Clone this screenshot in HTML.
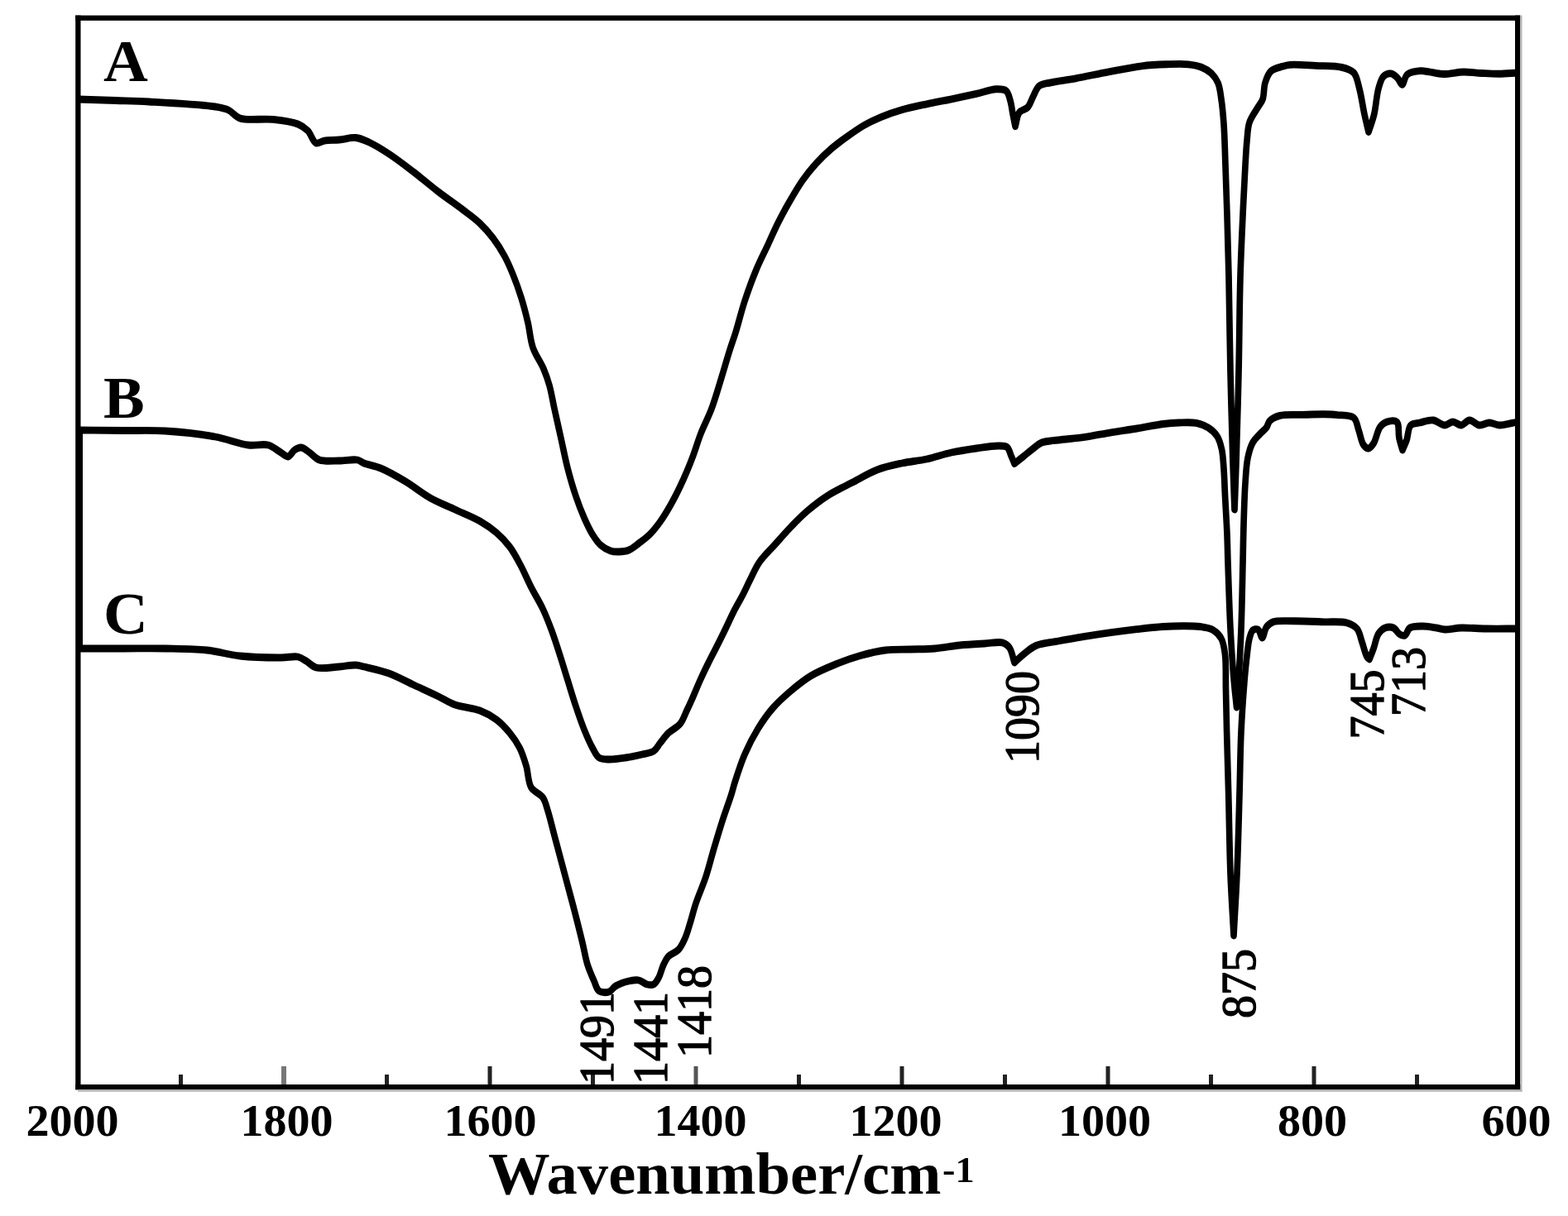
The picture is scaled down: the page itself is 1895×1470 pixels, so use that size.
<!DOCTYPE html>
<html lang="en"><head><meta charset="utf-8"><title>FTIR spectra</title>
<style>
html,body{margin:0;padding:0;background:#fff;}
body{width:1895px;height:1470px;overflow:hidden;}
svg{display:block;}
text{font-family:"Liberation Serif","DejaVu Serif",serif;fill:#000;}
.b{font-weight:bold;}
.tk{font-weight:bold;font-size:55px;text-anchor:middle;}
.pk{font-size:56px;stroke:#000;stroke-width:1.3px;}
.lab{font-weight:bold;font-size:72px;}
.cv{fill:none;stroke:#000;stroke-width:7.7;stroke-linejoin:round;stroke-linecap:butt;}
</style></head>
<body>
<svg width="1895" height="1470" viewBox="0 0 1895 1470">
<rect x="0" y="0" width="1895" height="1470" fill="#fff"/>
<g transform="scale(1 1.15)">
<path class="cv" d="M94.00 104.35C109.33 104.78 125.20 105.20 140.00 105.65C153.80 106.07 164.39 106.19 180.00 106.96C202.10 108.04 243.59 109.87 260.00 112.17C267.44 113.22 271.04 113.66 276.00 115.65C281.06 117.68 283.72 122.49 290.00 124.35C299.58 127.18 317.67 124.38 330.00 125.57C340.77 126.60 352.48 127.77 360.00 130.43C365.17 132.26 368.48 134.33 372.00 137.39C375.93 140.81 378.07 149.20 382.00 150.43C384.99 151.37 388.13 148.42 392.00 147.83C397.08 147.05 403.85 147.44 410.00 146.96C416.50 146.45 423.77 144.22 430.00 144.78C435.70 145.30 440.27 147.28 446.00 149.57C453.35 152.49 461.70 157.01 470.00 161.74C479.60 167.21 490.08 174.26 500.00 180.87C510.08 187.59 519.92 195.02 530.00 201.74C539.92 208.35 551.07 214.92 560.00 220.87C567.41 225.80 573.93 229.77 580.00 234.78C585.89 239.65 591.08 244.77 596.00 250.43C601.12 256.33 605.95 263.06 610.00 269.57C613.90 275.83 616.82 281.87 620.00 288.70C623.52 296.26 627.02 304.73 630.00 313.04C633.04 321.54 635.66 330.40 638.00 339.13C640.32 347.79 640.76 357.01 644.00 365.22C647.16 373.22 653.53 380.69 657.00 387.83C659.96 393.92 661.95 398.87 664.00 405.22C666.38 412.59 667.84 420.94 670.00 429.57C672.46 439.35 675.33 450.43 678.00 460.87C680.67 471.30 682.96 481.93 686.00 492.17C688.98 502.21 692.44 512.60 696.00 521.74C699.16 529.84 702.46 537.37 706.00 544.35C709.17 550.60 712.37 556.69 716.00 561.74C719.11 566.06 722.14 570.09 726.00 573.04C729.55 575.76 734.04 578.01 738.00 579.13C741.36 580.08 744.52 580.10 748.00 580.00C751.83 579.89 756.11 579.62 760.00 578.26C764.37 576.73 768.54 573.41 772.70 570.70C776.98 567.91 781.28 565.23 785.30 561.74C789.76 557.87 793.95 553.19 798.00 548.26C802.45 542.85 806.72 536.55 810.70 530.43C814.73 524.24 818.59 517.49 822.00 511.30C825.13 505.63 827.82 500.32 830.50 494.78C833.15 489.30 835.46 484.22 838.00 478.26C840.95 471.34 843.53 463.40 847.00 455.65C850.78 447.21 856.04 438.75 860.00 429.57C864.26 419.69 867.83 408.56 871.50 398.26C875.06 388.28 878.52 377.46 881.70 368.70C884.27 361.61 886.40 356.83 889.00 349.57C892.39 340.07 895.86 327.47 900.00 316.52C904.19 305.44 909.07 293.76 914.00 283.48C918.45 274.18 923.52 265.78 928.00 257.39C932.16 249.59 935.70 242.26 940.00 234.78C944.36 227.19 949.05 219.65 954.00 212.17C959.04 204.57 964.41 196.47 970.00 189.57C975.12 183.24 980.31 177.64 986.00 172.17C991.65 166.75 997.67 161.65 1004.00 156.87C1010.34 152.08 1017.25 147.70 1024.00 143.48C1030.59 139.36 1037.20 135.24 1044.00 131.83C1050.54 128.55 1056.80 125.91 1064.00 123.30C1072.01 120.41 1080.95 117.75 1090.00 115.48C1099.57 113.07 1109.98 111.28 1120.00 109.39C1129.98 107.51 1140.01 105.98 1150.00 104.17C1160.01 102.36 1170.56 100.35 1180.00 98.52C1188.45 96.88 1197.36 93.91 1204.00 93.74C1208.67 93.62 1213.17 93.53 1216.00 95.48C1218.92 97.49 1219.70 102.12 1221.00 105.91C1222.46 110.16 1222.98 115.27 1224.00 119.83C1224.98 124.25 1226.00 128.52 1227.00 132.87C1228.67 127.94 1228.98 121.48 1232.00 118.09C1234.45 115.34 1239.28 115.43 1242.00 112.87C1245.15 109.91 1246.59 104.57 1249.00 100.70C1251.27 97.05 1252.57 92.58 1256.00 90.26C1259.51 87.89 1264.41 87.88 1270.00 86.78C1278.08 85.20 1289.30 84.14 1300.00 82.43C1312.39 80.46 1326.65 77.65 1340.00 75.48C1353.32 73.31 1367.59 70.69 1380.00 69.39C1390.68 68.27 1400.35 67.93 1410.00 67.65C1418.97 67.39 1428.42 66.96 1436.00 67.65C1442.01 68.20 1447.20 68.94 1452.00 70.61C1456.46 72.16 1460.67 74.29 1464.00 77.04C1467.33 79.80 1470.04 83.12 1472.00 87.13C1474.35 91.94 1474.90 97.99 1476.00 104.35C1477.35 112.12 1478.21 120.62 1479.00 130.43C1480.02 143.08 1480.36 158.76 1481.00 173.91C1481.70 190.51 1482.36 207.78 1483.00 226.09C1483.71 246.41 1484.39 266.58 1485.00 290.43C1485.76 320.29 1486.15 358.13 1487.00 391.30C1487.83 423.61 1489.04 460.40 1490.00 486.96C1490.69 505.90 1491.33 519.42 1492.00 535.65C1492.67 519.42 1493.31 505.90 1494.00 486.96C1494.96 460.40 1496.17 423.61 1497.00 391.30C1497.85 358.13 1498.01 320.29 1499.00 290.43C1499.79 266.58 1500.94 246.41 1502.00 226.09C1502.95 207.78 1504.03 188.32 1505.00 173.91C1505.68 163.72 1506.07 155.84 1507.00 147.83C1507.80 140.94 1507.75 134.58 1510.00 128.70C1512.17 123.03 1517.05 117.48 1520.00 113.04C1522.22 109.70 1524.54 107.90 1526.00 104.35C1527.93 99.68 1527.12 92.12 1529.00 86.96C1530.65 82.41 1532.45 77.64 1536.00 74.78C1539.49 71.97 1545.80 70.97 1550.00 69.83C1553.28 68.93 1555.07 68.41 1559.00 68.09C1566.21 67.50 1579.62 68.53 1590.00 68.96C1600.49 69.39 1613.26 68.89 1621.60 70.70C1627.49 71.97 1632.51 73.06 1636.00 76.35C1639.94 80.06 1640.81 86.60 1642.80 92.87C1645.31 100.78 1646.96 112.05 1649.00 120.26C1650.68 127.03 1652.33 132.55 1654.00 138.70C1656.23 132.55 1658.81 127.08 1660.70 120.26C1662.96 112.09 1663.59 100.16 1666.00 92.87C1667.69 87.76 1669.01 82.81 1672.00 80.26C1674.31 78.29 1677.90 77.06 1680.70 77.30C1683.58 77.56 1686.69 80.04 1689.00 82.00C1691.28 83.94 1692.70 89.06 1694.50 88.96C1696.65 88.84 1697.39 80.67 1700.80 78.26C1704.51 75.64 1711.85 74.85 1716.60 74.52C1720.40 74.26 1723.12 75.03 1727.00 75.48C1731.98 76.05 1737.78 77.67 1744.00 77.83C1751.52 78.02 1760.98 75.76 1769.00 75.65C1776.43 75.56 1783.36 76.62 1790.50 76.96C1797.56 77.29 1804.46 77.71 1811.60 77.65C1818.96 77.59 1826.53 76.90 1834.00 76.52"/>
<path class="cv" d="M94.00 452.17C112.67 452.32 131.86 452.46 150.00 452.61C167.14 452.75 182.60 452.09 200.00 453.04C219.12 454.09 242.11 456.29 260.00 459.13C274.78 461.48 288.28 466.57 300.00 467.83C308.94 468.78 317.27 466.27 324.00 467.83C329.52 469.10 333.74 472.61 338.00 474.78C341.63 476.63 344.98 480.32 348.00 480.00C350.97 479.68 353.12 474.66 356.00 473.04C358.50 471.64 361.25 470.22 364.00 470.43C367.22 470.69 370.58 473.65 374.00 475.65C377.88 477.92 380.98 481.92 386.00 483.48C392.36 485.45 402.17 484.36 410.00 484.35C417.49 484.34 426.59 482.48 432.00 483.48C435.45 484.11 436.66 485.81 440.00 486.96C445.10 488.72 452.82 489.60 460.00 492.17C469.16 495.46 480.14 500.96 490.00 506.09C500.15 511.37 509.78 518.48 520.00 523.48C529.80 528.27 540.00 531.59 550.00 535.65C560.00 539.71 571.20 543.41 580.00 547.83C587.55 551.62 593.95 555.45 600.00 560.00C605.92 564.45 611.25 569.28 616.00 574.78C620.97 580.53 624.83 587.13 629.00 593.91C633.52 601.26 637.48 609.68 642.00 617.39C646.48 625.04 651.82 632.29 656.00 640.00C660.15 647.66 663.56 655.40 667.00 663.48C670.58 671.90 673.80 680.93 677.00 689.57C680.13 698.03 682.92 706.17 686.00 714.78C689.24 723.83 692.56 733.67 696.00 742.61C699.24 751.02 702.48 759.39 706.00 766.96C709.18 773.78 712.60 780.77 716.00 786.09C718.63 790.20 720.45 794.53 724.00 796.52C727.26 798.35 731.48 798.13 736.00 798.26C741.81 798.43 749.36 797.39 756.00 796.52C762.69 795.65 769.95 794.32 776.00 793.04C781.11 791.97 786.27 791.72 790.00 789.57C793.49 787.54 795.17 783.89 798.00 780.87C801.13 777.54 804.16 773.68 808.00 770.43C812.09 766.98 818.34 764.78 822.00 760.87C825.67 756.95 827.56 751.37 830.00 746.96C832.18 743.01 833.77 740.01 836.00 735.65C839.01 729.77 842.86 721.40 846.30 714.78C849.46 708.69 852.53 703.17 855.80 697.39C859.09 691.57 862.56 685.94 866.00 680.00C869.59 673.78 873.42 667.11 876.90 660.87C880.20 654.95 883.04 649.24 886.40 643.48C889.80 637.64 893.75 631.91 897.20 626.09C900.61 620.32 903.63 614.47 907.00 608.70C910.39 602.88 912.96 597.04 917.50 591.30C922.73 584.70 930.74 578.13 937.30 571.74C943.67 565.53 949.86 559.29 956.30 553.48C962.53 547.86 968.35 542.59 975.30 537.39C982.81 531.78 991.13 526.07 1000.00 521.13C1009.30 515.96 1019.98 511.76 1030.00 507.22C1039.98 502.69 1049.79 497.32 1060.00 493.91C1069.80 490.64 1079.95 488.85 1090.00 486.96C1099.95 485.09 1110.05 484.48 1120.00 482.61C1130.05 480.72 1139.95 477.54 1150.00 475.65C1159.95 473.78 1170.34 472.49 1180.00 471.30C1188.96 470.21 1199.17 468.63 1206.00 468.70C1210.45 468.74 1214.34 468.31 1217.00 470.00C1219.72 471.73 1220.46 476.15 1222.00 479.13C1223.45 481.94 1224.67 484.64 1226.00 487.39C1229.33 485.07 1232.52 482.88 1236.00 480.43C1239.83 477.75 1244.03 474.52 1248.00 471.91C1251.69 469.48 1254.54 466.77 1259.00 465.22C1264.47 463.32 1271.54 463.46 1279.00 462.61C1288.41 461.54 1300.39 460.81 1311.00 459.48C1321.59 458.15 1332.07 456.12 1342.60 454.61C1353.07 453.11 1363.49 451.92 1374.00 450.43C1384.62 448.93 1396.69 446.67 1406.00 445.65C1413.13 444.88 1418.53 444.51 1425.00 444.35C1431.72 444.17 1439.44 443.65 1445.60 444.70C1450.93 445.60 1455.75 447.16 1460.00 449.48C1464.21 451.78 1468.27 454.86 1471.00 458.52C1473.86 462.36 1475.18 467.08 1476.50 472.17C1478.08 478.29 1478.35 485.47 1479.00 492.87C1479.75 501.39 1479.92 510.32 1480.50 520.43C1481.21 532.82 1482.40 549.12 1483.00 561.74C1483.50 572.41 1483.54 579.37 1484.00 591.30C1484.70 609.61 1485.71 639.35 1487.00 660.87C1488.12 679.52 1489.56 697.99 1491.00 713.04C1492.10 724.56 1493.33 733.33 1494.50 743.48C1495.33 733.33 1496.20 724.55 1497.00 713.04C1498.05 697.99 1499.20 679.51 1500.00 660.87C1500.93 639.35 1501.46 611.18 1502.00 591.30C1502.40 576.40 1502.52 565.62 1503.00 552.17C1503.51 537.85 1503.98 520.71 1505.00 507.83C1505.79 497.84 1506.16 488.97 1508.00 481.30C1509.47 475.20 1511.22 469.58 1514.00 465.22C1516.28 461.65 1519.55 459.24 1522.40 456.52C1525.09 453.95 1528.50 451.85 1530.60 449.30C1532.46 447.06 1532.45 444.21 1534.70 442.26C1537.47 439.86 1541.95 438.00 1547.00 436.87C1554.01 435.30 1564.67 436.23 1573.50 436.00C1582.33 435.77 1592.28 435.39 1600.00 435.48C1606.00 435.55 1610.39 435.64 1616.00 436.17C1622.31 436.78 1631.67 436.09 1636.00 439.13C1639.86 441.84 1640.07 447.60 1642.00 452.17C1644.09 457.13 1645.23 464.67 1648.00 467.83C1649.71 469.77 1652.07 471.47 1654.00 471.30C1656.09 471.12 1658.13 468.56 1660.00 466.09C1662.99 462.15 1664.59 452.56 1668.00 448.70C1670.32 446.06 1672.86 444.39 1676.00 443.48C1679.44 442.48 1685.41 441.54 1688.00 443.48C1691.37 446.00 1689.69 455.62 1691.00 460.87C1692.11 465.32 1693.67 468.99 1695.00 473.04C1696.67 469.57 1698.46 466.48 1700.00 462.61C1701.85 457.96 1701.63 449.87 1705.00 446.96C1707.63 444.68 1711.97 445.15 1716.00 444.35C1720.82 443.39 1726.93 441.25 1732.00 441.74C1736.91 442.21 1741.72 446.91 1746.00 446.96C1749.60 446.99 1752.67 443.48 1756.00 443.48C1759.33 443.48 1762.73 447.18 1766.00 446.96C1769.40 446.72 1772.48 441.86 1776.00 441.74C1779.78 441.61 1783.92 446.57 1788.00 446.96C1791.92 447.33 1796.00 444.35 1800.00 444.35C1804.00 444.35 1807.38 446.83 1812.00 446.96C1818.21 447.13 1826.67 444.64 1834.00 443.48"/>
<path class="cv" d="M94.00 681.74C112.67 681.74 131.86 681.74 150.00 681.74C167.14 681.74 183.34 681.45 200.00 681.74C216.67 682.03 234.31 682.02 250.00 683.48C264.13 684.79 275.87 688.25 290.00 689.57C305.69 691.02 327.09 691.36 340.00 691.30C348.17 691.27 354.60 689.45 360.00 690.43C364.04 691.17 366.58 693.06 370.00 694.78C373.89 696.74 376.87 700.48 382.00 701.74C389.15 703.50 401.46 701.37 410.00 700.87C417.23 700.44 424.49 698.90 430.00 699.13C433.92 699.30 435.79 700.02 440.00 700.87C447.34 702.36 460.16 704.71 470.00 707.83C480.17 711.04 490.00 715.94 500.00 720.00C510.00 724.06 521.04 728.41 530.00 732.17C537.37 735.27 542.48 738.51 550.00 740.87C558.83 743.64 571.21 744.03 580.00 746.96C587.56 749.48 593.99 752.60 600.00 756.52C605.98 760.43 611.29 765.44 616.00 770.43C620.60 775.31 624.70 780.42 628.00 786.09C631.43 791.98 633.72 798.51 636.00 805.22C638.44 812.38 638.03 822.12 642.00 827.83C645.30 832.57 652.65 834.10 656.00 838.26C659.22 842.27 660.01 846.76 662.00 852.17C664.68 859.47 667.33 869.57 670.00 878.26C672.67 886.96 675.33 895.65 678.00 904.35C680.67 913.04 683.33 921.74 686.00 930.43C688.67 939.13 691.23 947.19 694.00 956.52C697.19 967.27 701.14 980.94 704.00 991.30C706.30 999.64 707.49 1006.95 710.00 1013.91C712.26 1020.17 715.41 1026.28 718.00 1031.30C720.05 1035.27 720.86 1039.89 724.00 1041.74C726.98 1043.49 732.60 1043.58 736.00 1042.61C739.20 1041.69 740.65 1038.26 744.00 1036.52C748.24 1034.32 754.98 1032.29 760.00 1031.30C764.22 1030.48 768.28 1029.81 772.00 1030.43C775.59 1031.04 778.76 1034.12 782.00 1034.78C784.74 1035.34 787.75 1035.76 790.00 1034.78C792.52 1033.69 794.20 1030.68 796.00 1027.83C798.35 1024.10 799.77 1017.93 802.00 1013.91C803.84 1010.59 805.24 1007.73 808.00 1005.22C811.06 1002.42 816.72 1001.32 820.00 998.26C823.47 995.03 825.73 990.51 828.00 986.09C830.46 981.29 831.98 976.04 834.00 970.43C836.31 964.00 838.17 956.97 841.00 949.57C844.31 940.91 849.45 931.08 853.00 921.74C856.50 912.52 859.01 903.32 862.20 893.91C865.50 884.20 868.88 874.18 872.50 864.35C876.14 854.47 881.23 842.51 884.00 834.78C885.76 829.86 886.20 827.52 888.00 822.61C890.84 814.87 895.28 802.54 900.00 793.04C904.64 783.71 910.12 774.42 916.00 766.09C921.52 758.26 927.31 751.03 934.00 744.35C940.65 737.71 948.30 731.76 956.00 726.09C963.64 720.46 971.26 714.99 980.00 710.43C989.18 705.65 999.90 701.84 1010.00 698.26C1019.90 694.76 1029.91 691.61 1040.00 689.13C1049.91 686.70 1059.94 684.56 1070.00 683.48C1079.94 682.41 1090.00 682.90 1100.00 682.61C1110.00 682.32 1120.02 682.46 1130.00 681.74C1140.02 681.01 1149.98 679.13 1160.00 678.26C1169.98 677.39 1180.77 676.97 1190.00 676.52C1197.90 676.14 1206.68 674.23 1212.00 675.65C1215.58 676.61 1217.84 678.27 1220.00 680.87C1222.97 684.45 1224.00 691.30 1226.00 696.52C1229.67 693.62 1232.94 690.65 1237.00 687.83C1241.51 684.69 1245.95 680.96 1252.00 678.70C1259.42 675.92 1269.61 675.46 1279.00 673.91C1289.20 672.23 1300.36 670.56 1311.00 669.04C1321.56 667.54 1332.07 666.13 1342.60 664.87C1353.07 663.61 1363.48 662.50 1374.00 661.48C1384.61 660.44 1396.09 659.27 1406.00 658.70C1414.56 658.20 1422.36 657.98 1430.00 658.00C1436.97 658.02 1443.75 657.90 1450.00 658.70C1455.68 659.42 1461.58 660.02 1466.00 662.26C1470.13 664.36 1473.61 667.49 1476.00 671.30C1478.78 675.74 1479.51 681.17 1480.50 687.83C1481.95 697.65 1481.17 711.90 1481.50 724.78C1481.87 738.89 1482.14 752.90 1482.60 769.13C1483.16 788.88 1484.01 811.59 1484.70 834.78C1485.48 860.94 1485.84 892.16 1487.00 918.26C1488.03 941.35 1489.67 961.74 1491.00 983.48C1492.33 961.74 1493.88 941.35 1495.00 918.26C1496.27 892.16 1497.13 860.94 1498.00 834.78C1498.77 811.59 1498.91 789.88 1500.00 769.13C1500.99 750.38 1502.62 730.36 1504.00 715.65C1504.97 705.30 1505.88 697.16 1507.00 689.22C1507.92 682.66 1508.50 676.15 1510.00 671.30C1511.08 667.82 1511.87 664.09 1514.00 662.61C1515.65 661.46 1518.63 660.95 1520.40 661.74C1522.73 662.77 1523.88 670.50 1525.50 670.43C1527.30 670.36 1528.10 662.00 1530.60 659.13C1532.74 656.67 1535.07 654.90 1538.80 653.74C1544.52 651.95 1554.08 652.92 1563.00 652.87C1574.03 652.80 1588.53 653.39 1600.00 653.74C1609.98 654.04 1620.81 652.95 1628.00 654.78C1633.06 656.07 1637.04 657.82 1640.00 660.87C1643.28 664.25 1644.05 669.99 1646.00 674.78C1648.06 679.83 1649.92 687.51 1652.00 690.43C1652.98 691.82 1654.00 692.17 1655.00 693.04C1656.67 689.28 1658.31 685.83 1660.00 681.74C1661.97 676.96 1663.11 669.87 1666.00 666.09C1668.17 663.25 1670.94 661.00 1674.00 660.00C1676.97 659.03 1681.07 658.94 1684.00 660.00C1687.12 661.12 1689.30 665.75 1692.00 666.96C1693.98 667.84 1696.21 668.50 1698.00 667.83C1700.38 666.93 1700.93 661.65 1704.00 660.00C1707.74 657.99 1714.67 658.26 1720.00 658.26C1725.33 658.26 1731.30 659.34 1736.00 660.00C1739.74 660.53 1742.08 661.57 1746.00 661.74C1751.51 661.97 1758.65 660.21 1766.00 660.00C1774.98 659.74 1785.41 660.72 1796.00 660.87C1807.92 661.04 1821.33 660.87 1834.00 660.87"/>
</g>
<rect x="216.0" y="1299" width="5.0" height="13" fill="#222"/>
<rect x="340.0" y="1289" width="6.0" height="23" fill="#777"/>
<rect x="465.0" y="1299" width="5.0" height="13" fill="#222"/>
<rect x="589.5" y="1289" width="5.0" height="23" fill="#222"/>
<rect x="714.0" y="1299" width="5.0" height="13" fill="#222"/>
<rect x="838.5" y="1289" width="5.0" height="23" fill="#555"/>
<rect x="963.0" y="1299" width="5.0" height="13" fill="#222"/>
<rect x="1087.5" y="1289" width="5.0" height="23" fill="#222"/>
<rect x="1212.0" y="1299" width="5.0" height="13" fill="#222"/>
<rect x="1336.5" y="1289" width="5.0" height="23" fill="#222"/>
<rect x="1461.0" y="1299" width="5.0" height="13" fill="#222"/>
<rect x="1585.5" y="1289" width="5.0" height="23" fill="#222"/>
<rect x="1710.0" y="1299" width="5.0" height="13" fill="#222"/>
<rect x="91.2" y="18.6" width="1746" height="6.3" fill="#000"/>
<rect x="91.2" y="18.6" width="6.3" height="1298.6" fill="#000"/>
<rect x="96" y="520" width="4" height="264" fill="#000"/>
<rect x="1831" y="18.6" width="6.2" height="1298.6" fill="#000"/>
<rect x="1837.2" y="18.6" width="2.3" height="1301" fill="#b4b4b4"/>
<rect x="91.2" y="1311" width="1746" height="6.3" fill="#000"/>
<rect x="94" y="1317.3" width="1745.5" height="2.4" fill="#b4b4b4"/>
<text class="tk" transform="translate(87.5 1372.6) scale(1.02 1)">2000</text>
<text class="tk" transform="translate(346.5 1372.6) scale(1.02 1)">1800</text>
<text class="tk" transform="translate(592.5 1372.6) scale(1.02 1)">1600</text>
<text class="tk" transform="translate(846.5 1372.6) scale(1.02 1)">1400</text>
<text class="tk" transform="translate(1082.5 1372.6) scale(1.02 1)">1200</text>
<text class="tk" transform="translate(1335.0 1372.6) scale(1.02 1)">1000</text>
<text class="tk" transform="translate(1586.0 1372.6) scale(1.02 1)">800</text>
<text class="tk" transform="translate(1832.5 1372.6) scale(1.02 1)">600</text>
<text class="b" transform="translate(590 1443) scale(1.03 1)" font-size="72.5">Wavenumber/cm<tspan font-size="45" dy="-14" dx="1.5">-1</tspan></text>
<text class="lab" transform="translate(125.0 98.0) scale(1.035 1)">A</text>
<text class="lab" transform="translate(125.0 505.0) scale(1.035 1)">B</text>
<text class="lab" transform="translate(125.0 766.0) scale(1.035 1)">C</text>
<text class="pk" transform="translate(741.0 1311.0) rotate(-90) scale(1 1.05)" >1491</text>
<text class="pk" transform="translate(806.0 1311.0) rotate(-90) scale(1 1.05)" >1441</text>
<text class="pk" transform="translate(859.0 1279.0) rotate(-90) scale(1 1.05)" >1418</text>
<text class="pk" transform="translate(1255.0 923.0) rotate(-90) scale(1 1.05)" >1090</text>
<text class="pk" transform="translate(1517.0 1231.0) rotate(-90) scale(1 1.05)" >875</text>
<text class="pk" transform="translate(1672.0 893.6) rotate(-90) scale(1 1.05)" >745</text>
<text class="pk" transform="translate(1722.0 866.0) rotate(-90) scale(1 1.05)" >713</text>
</svg>
</body></html>
